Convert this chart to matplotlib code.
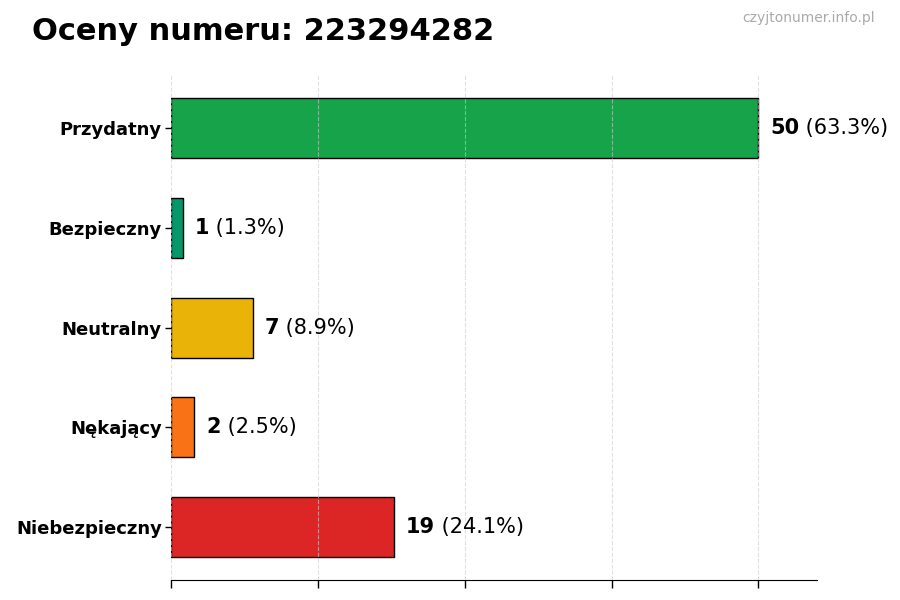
import matplotlib
matplotlib.use("Agg")
import matplotlib.pyplot as plt

categories = ["Przydatny", "Bezpieczny", "Neutralny", "Nękający", "Niebezpieczny"]
counts = [50, 1, 7, 2, 19]
percent_labels = ["63.3%", "1.3%", "8.9%", "2.5%", "24.1%"]
colors = ["#16a34a", "#059669", "#eab308", "#f97316", "#dc2626"]
title = "Oceny numeru: 223294282"
watermark = "czyjtonumer.info.pl"

fig = plt.figure(figsize=(9, 6), dpi=100)
ax = fig.add_axes([0.19, 0.033, 0.718, 0.842])

ypos = list(range(len(categories)))
ax.barh(ypos, counts, height=0.6, color=colors, edgecolor="black", linewidth=1, zorder=2)
ax.set_yticks(ypos)
ax.set_yticklabels(categories, fontsize=13, fontweight="bold")
ax.invert_yaxis()
ax.set_xlim(0, max(counts) * 1.1)
ax.set_xticks([0, 12.5, 25, 37.5, 50])
ax.set_xticklabels([])
ax.tick_params(axis="x", length=6, width=1)
ax.tick_params(axis="y", length=4, width=1, pad=2.5)
for s in ["top", "right", "left"]:
    ax.spines[s].set_visible(False)
ax.grid(axis="x", linestyle="--", color="#cccccc", alpha=0.6, linewidth=0.8, zorder=3)
ax.set_axisbelow(False)

for y, c, p in zip(ypos, counts, percent_labels):
    t = ax.text(c + 1, y, str(c), fontsize=15, fontweight="bold", va="center", ha="left", zorder=4)
    ax.annotate(" (" + p + ")", xy=(1, 0), xycoords=t, va="bottom", ha="left", fontsize=15, zorder=4)

fig.text(0.036, 0.948, title, fontsize=22, fontweight="bold", ha="left", va="center")
fig.text(0.972, 0.97, watermark, fontsize=10, color="#aaaaaa", ha="right", va="center")

fig.savefig("out.png", dpi=100)
